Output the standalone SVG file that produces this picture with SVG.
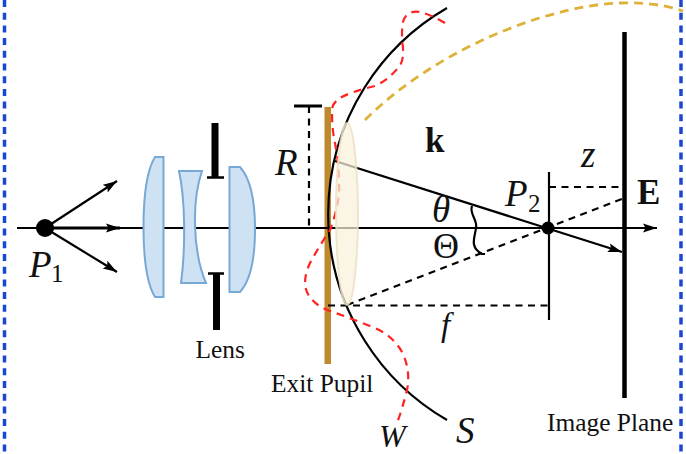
<svg xmlns="http://www.w3.org/2000/svg" width="686" height="454" viewBox="0 0 686 454">
<style>
.ln{fill:none;stroke:#000;stroke-width:2.2}
.thick{stroke-width:3}
.d{fill:none;stroke:#000;stroke-width:2.2;stroke-dasharray:7 5.5}
.lens{fill:#cfe2f3;stroke:#76a9d6;stroke-width:2}
.bd{fill:none;stroke:#1a46d6;stroke-width:3.5;stroke-dasharray:7 5.7}
.t{font-family:"Liberation Serif",serif;font-size:25.4px;fill:#111}
.m{font-family:"Liberation Serif",serif;font-size:37px;font-style:italic;fill:#111}
.r{font-family:"Liberation Serif",serif;font-size:36px;fill:#111}
.b{font-family:"Liberation Serif",serif;font-size:35px;font-weight:bold;fill:#111}
.s{font-family:"Liberation Serif",serif;font-size:25px;fill:#111}
</style>
<defs>
<marker id="a" markerUnits="userSpaceOnUse" markerWidth="16" markerHeight="12" refX="14" refY="5.500" orient="auto"><path d="M0 1L14 5.500L0 10L2.500 5.500Z" fill="#000"/></marker>
</defs>
<g id="frame"><path class="bd" d="M4.500 0V454"/><path class="bd" d="M681 0V454"/></g>
<g id="exit-pupil"><rect x="324.500" y="107" width="6.500" height="257" fill="#bf8a2e"/><text class="t" x="271" y="392">Exit Pupil</text></g>
<g id="connectors">
<path class="ln" d="M17 228H657" marker-end="url(#a)"/>
<path class="ln thick" d="M45 228H120" marker-end="url(#a)"/>
<path class="ln" d="M45 228L117 181" marker-end="url(#a)"/>
<path class="ln" d="M45 228L117 272" marker-end="url(#a)"/>
<path class="ln thick" d="M294 106H322"/>
<path class="d" d="M309 106V228"/>
<path class="ln" d="M447 8A238 238 0 0 0 447 420"/>
<path class="ln" d="M335 161L622 252" marker-end="url(#a)"/>
<path class="d" d="M347 305L622 199"/>
<path class="d" d="M328 305.500H549"/>
<path class="d" d="M549 187H622"/>
<path class="ln" d="M549 172V320"/>
<path class="ln" d="M472 206C469 214 478 220 476 228C475 237 469 247 482 254H485"/>
<path fill="none" stroke="#f22" stroke-width="2.200" stroke-dasharray="8 6" d="M445 23Q432 15 420 12Q406 10 403 22Q401 34 403 48Q404 62 398 68Q388 80 375 86Q350 92 340 98Q331 104 332 112Q332 130 335 143Q340 170 339 195Q336 215 330 230Q320 245 310 263Q302 280 307 292Q313 305 330 311Q350 318 370 326Q392 334 402 352Q411 370 407 390Q402 410 397 423"/>
<path fill="none" stroke="#dcb238" stroke-width="2.800" stroke-dasharray="9 6" d="M365 120C425 60 520 15 600 4.500C630 1 660 3 683 11"/>
</g>
<g id="lens-1"><path class="lens" d="M163.500 157H155C147 170 143.500 195 143.500 227C143.500 259 147 284 155 297H163.500Z"/></g>
<g id="lens-2"><path class="lens" d="M179 171H202C192 200 192 250 206 283H181C185.500 250 185.500 200 179 171Z"/></g>
<g id="lens-3"><path class="lens" d="M229.500 167H240C250 178 255 200 255 229C255 258 250 281 240 292H229.500Z"/></g>
<g id="aperture"><path d="M215 123V177M216.500 273V330" stroke="#000" stroke-width="7" fill="none"/><path d="M207 177.500H224M208 273.500H224" stroke="#000" stroke-width="2.500" fill="none"/><text class="t" x="195.500" y="358">Lens</text></g>
<g id="pupil-lens"><path d="M347 123C354 123 358 175 358 214C358 255 354 305 347 305C340 305 336 255 336 214C336 175 340 123 347 123Z" fill="#f9f1dc" fill-opacity=".72" stroke="#ecdfc0" stroke-opacity=".8" stroke-width="2"/></g>
<g id="image-plane"><path d="M624.500 32V398" stroke="#000" stroke-width="4.500"/><text class="t" x="547" y="431">Image Plane</text></g>
<g id="P1"><circle cx="45" cy="228" r="9"/><text class="m" x="29" y="277">P</text><text class="s" x="51" y="282">1</text></g>
<g id="P2"><circle cx="548" cy="228" r="6.500"/><text class="m" x="505" y="206">P</text><text class="s" x="528" y="212">2</text></g>
<g id="labels">
<text class="m" x="275" y="175">R</text>
<text class="b" x="425" y="152">k</text>
<text class="m" x="432" y="222">θ</text>
<text class="r" x="433" y="258">Θ</text>
<text class="m" x="581" y="167">z</text>
<text class="b" x="637" y="204">E</text>
<text class="m" style="font-size:33px" x="441" y="336">f</text>
<text class="m" style="font-size:32px" x="379" y="447">W</text>
<text class="m" x="456" y="443">S</text>
</g>
</svg>
